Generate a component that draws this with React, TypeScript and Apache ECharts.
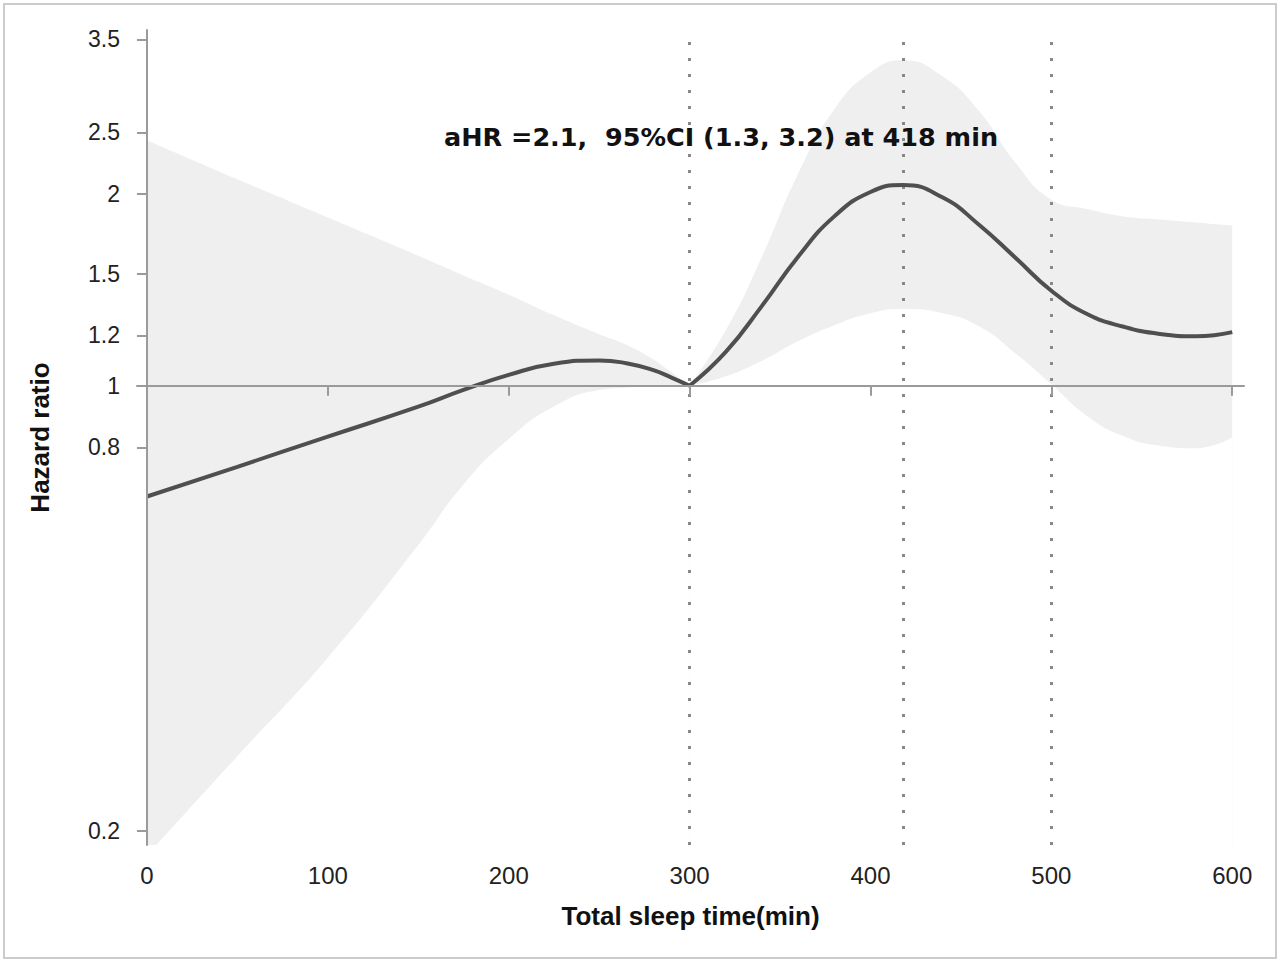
import React, { useEffect, useRef } from "react";
import * as echarts from "echarts";

// Total sleep time (min)
const minutes = [0, 50, 100, 150, 175, 200, 225, 250, 265, 280, 290, 300, 320, 340, 360, 380, 400, 418, 440, 460, 480, 500, 520, 540, 560, 580, 600];
// Adjusted hazard ratio
const hazardRatio = [0.67, 0.746, 0.832, 0.927, 0.985, 1.04, 1.083, 1.096, 1.085, 1.058, 1.03, 1.0, 1.13, 1.335, 1.595, 1.845, 2.015, 2.066, 1.975, 1.79, 1.59, 1.41, 1.295, 1.238, 1.206, 1.196, 1.214];
// 95% CI lower bound
const ciLower = [0.183, 0.262, 0.374, 0.562, 0.7, 0.825, 0.928, 0.985, 0.993, 0.998, 0.999, 1.0, 1.035, 1.095, 1.175, 1.245, 1.3, 1.32, 1.3, 1.24, 1.125, 1.005, 0.895, 0.833, 0.805, 0.798, 0.83];
// 95% CI upper bound
const ciUpper = [2.43, 2.11, 1.837, 1.6, 1.49, 1.39, 1.29, 1.205, 1.16, 1.1, 1.05, 1.0, 1.222, 1.595, 2.153, 2.718, 3.105, 3.245, 3.06, 2.7, 2.243, 1.96, 1.895, 1.845, 1.825, 1.805, 1.785];

const xTicks = [0, 100, 200, 300, 400, 500, 600];
const yTicks = [0.2, 0.8, 1, 1.2, 1.5, 2, 2.5, 3.5];
const referenceX = [300, 418, 500];
const referenceHR = 1;
const annotation = "aHR =2.1,  95%CI (1.3, 3.2) at 418 min";
const knot = 300;

export default function App() {
  const ref = useRef<HTMLDivElement>(null);

  useEffect(() => {
    if (!ref.current) return;
    const chart = echarts.init(ref.current, undefined, { renderer: "svg" });
    const ln = Math.log;

    const idxA = minutes.map((m, i) => i).filter((i) => minutes[i] <= knot);
    const idxB = minutes.map((m, i) => i).filter((i) => minutes[i] >= knot);

    const areaSeries = (idx: number[], values: number[], color: string, z: number) => ({
      type: "line",
      data: idx.map((i) => [minutes[i], ln(values[i])]),
      smooth: 0.5,
      symbol: "none",
      showSymbol: false,
      lineStyle: { width: 0, opacity: 0 },
      areaStyle: { color, opacity: 1, origin: "start" },
      silent: true,
      z,
    });

    const curveSeries = (idx: number[]) => ({
      type: "line",
      data: idx.map((i) => [minutes[i], ln(hazardRatio[i])]),
      smooth: 0.5,
      symbol: "none",
      showSymbol: false,
      lineStyle: { width: 4, color: "#4f4f4f" },
      silent: true,
      z: 5,
    });

    const axisFont = "Liberation Sans, Arial, sans-serif";

    chart.setOption({
      animation: false,
      backgroundColor: "#fff",
      grid: { left: 137, right: 36, top: 30, bottom: 118, containLabel: false },
      xAxis: {
        type: "value",
        min: -5.5,
        max: 606.5,
        z: 10,
        name: "Total sleep time(min)",
        nameLocation: "middle",
        nameGap: 58,
        nameTextStyle: { fontFamily: axisFont, fontSize: 26, fontWeight: "bold", color: "#111" },
        axisLine: { show: true, lineStyle: { color: "#9a9a9a", width: 2 } },
        axisTick: { show: true, customValues: xTicks, length: 10, lineStyle: { color: "#9a9a9a", width: 2 } },
        axisLabel: { customValues: xTicks, margin: 18, fontFamily: axisFont, fontSize: 24, color: "#222" },
        splitLine: { show: false },
      },
      yAxis: {
        type: "value",
        min: ln(0.19),
        max: ln(3.62),
        z: 10,
        name: "Hazard ratio",
        nameLocation: "middle",
        nameGap: 84,
        nameTextStyle: { fontFamily: axisFont, fontSize: 26, fontWeight: "bold", color: "#111" },
        axisLine: { show: true, lineStyle: { color: "#9a9a9a", width: 2 } },
        axisTick: { show: true, customValues: yTicks.map((t) => ln(t)), length: 10, lineStyle: { color: "#9a9a9a", width: 2 } },
        axisLabel: {
          customValues: yTicks.map((t) => ln(t)),
          margin: 17,
          fontFamily: axisFont,
          fontSize: 23,
          color: "#222",
          formatter: (v: number) => {
            const t = yTicks.find((tt) => Math.abs(ln(tt) - v) < 1e-6);
            return t === undefined ? "" : String(t);
          },
        },
        splitLine: { show: false },
      },
      graphic: [
        {
          type: "rect",
          shape: { x: 4, y: 4, width: 1272, height: 954 },
          style: { fill: "none", stroke: "#cccccc", lineWidth: 2 },
          silent: true,
          z: 0,
        },
        {
          type: "text",
          x: 721,
          y: 137,
          style: {
            text: annotation,
            align: "center",
            verticalAlign: "middle",
            fontFamily: "DejaVu Sans, sans-serif",
            fontWeight: "bold",
            fontSize: 25.5,
            fill: "#111",
          },
          silent: true,
          z: 20,
        },
      ],
      series: [
        areaSeries(idxA, ciUpper, "#efefef", 1),
        areaSeries(idxB, ciUpper, "#efefef", 1),
        areaSeries(idxA, ciLower, "#ffffff", 2),
        areaSeries(idxB, ciLower, "#ffffff", 2),
        {
          type: "line",
          data: [],
          z: 4,
          silent: true,
          markLine: {
            silent: true,
            symbol: "none",
            label: { show: false },
            data: [
              { yAxis: ln(referenceHR), lineStyle: { color: "#aaaaaa", width: 2, type: "solid" } },
              ...referenceX.map((x) => ({ xAxis: x, lineStyle: { color: "#888888", width: 3, type: [3, 13] } })),
            ],
          },
        },
        curveSeries(idxA),
        curveSeries(idxB),
      ],
    });

    return () => chart.dispose();
  }, []);

  return (
    <div
      ref={ref}
      style={{ position: "fixed", left: 0, top: 0, width: 1280, height: 963, background: "#fff" }}
    />
  );
}
